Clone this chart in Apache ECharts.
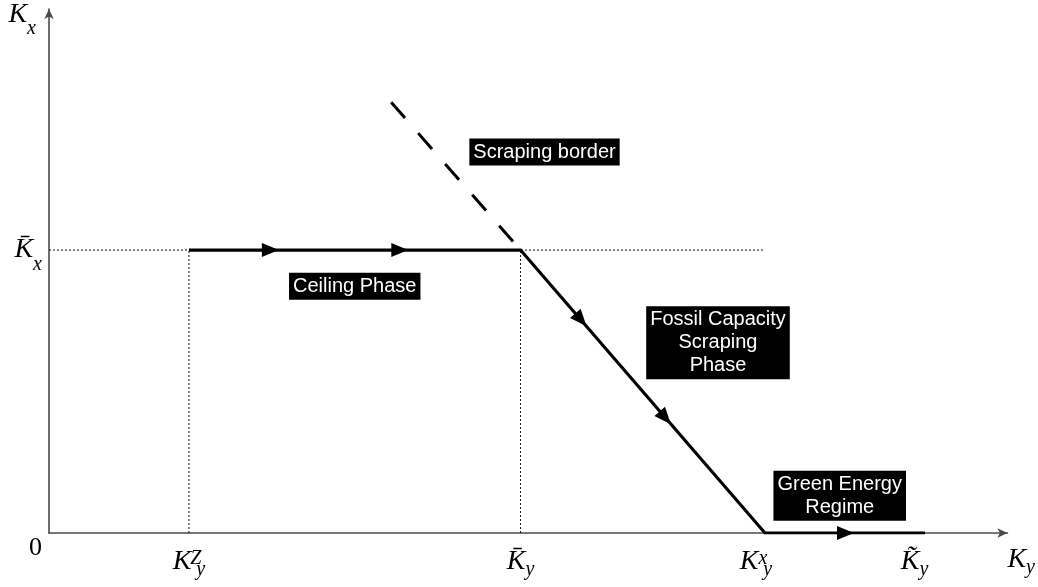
<!DOCTYPE html>
<html>
<head>
<meta charset="utf-8">
<script src="https://cdn.jsdelivr.net/npm/echarts@6/dist/echarts.min.js"></script>
<style>
  html, body { margin: 0; padding: 0; background: #fff; }
  #chart { width: 1038px; height: 587px; }
</style>
</head>
<body>
<div id="chart"></div>
<script>
// Capital levels on the K_y axis and the K_x ceiling
const kyZ = 1.46;
const kyBar = 4.92;
const kyX = 7.47;
const kyTilde = 9.14;
const kxBar = 5.40;

// Tick labels: base letter, subscript, superscript
const xTickValues = [kyZ, kyBar, kyX, kyTilde];
const xTickBase = ['K', 'K\u0304', 'K', 'K\u0303'];
const xTickSub = ['y', 'y', 'y', 'y'];
const xTickSup = ['Z', '', 'x', ''];
const yTickValues = [0, kxBar];

// Transition path: ceiling phase, scraping phase, green regime
const pathPoints = [[kyZ, kxBar], [kyBar, kxBar], [kyX, 0], [kyTilde, 0]];
// Scraping border above the ceiling
const borderPoints = [[3.57, 8.22], [kyBar, kxBar]];
// Direction markers along the path
const arrowPoints = [[2.31, kxBar], [3.66, kxBar], [5.55, 4.07], [6.43, 2.20], [8.31, 0]];
// Phase captions and where they sit
const phaseNames = ['Scraping border', 'Ceiling Phase', 'Fossil Capacity\nScraping\nPhase', 'Green Energy\nRegime'];
const phaseAnchors = [[5.17, 7.27], [3.19, 4.71], [6.98, 3.63], [8.25, 0.71]];

const arrowRotation = [-90, -90, -139, -139, -90];
// extra right padding per x tick label, shifts the label left of its tick
const xLabelPadRight = [0, 0, 18, 21];

const serif = 'Liberation Serif';
const it = { fontFamily: serif, fontStyle: 'italic', color: '#000' };
const mathRich = {
  K:    Object.assign({ fontSize: 28, lineHeight: 40, verticalAlign: 'middle' }, it),
  sub:  Object.assign({ fontSize: 20, verticalAlign: 'bottom', padding: [0, 0, 2, 0] }, it),
  subR: Object.assign({ fontSize: 20, verticalAlign: 'bottom', padding: [0, 21, 2, 0] }, it),
  subS: Object.assign({ fontSize: 20, verticalAlign: 'bottom', padding: [0, 18, 2, 0] }, it),
  sup:  Object.assign({ fontSize: 20, verticalAlign: 'top', width: 1, padding: [7, 0, 0, 4] }, it),
  KN:   Object.assign({ fontSize: 28, lineHeight: 48, verticalAlign: 'middle' }, it),
  KY:   Object.assign({ fontSize: 28, lineHeight: 50, verticalAlign: 'middle' }, it),
  subY: Object.assign({ fontSize: 20, verticalAlign: 'bottom' }, it),
  zero: { fontFamily: serif, fontSize: 26, lineHeight: 26, color: '#000', padding: [30, 0, 0, 0] }
};

function xTickText(v) {
  const i = xTickValues.findIndex(t => Math.abs(t - v) < 1e-6);
  if (i < 0) return '';
  let s = '{K|' + xTickBase[i] + '}';
  if (xTickSup[i] !== '') s += '{sup|' + xTickSup[i] + '}';
  const subStyle = xLabelPadRight[i] === 21 ? 'subR' : (xLabelPadRight[i] === 18 ? 'subS' : 'sub');
  s += '{' + subStyle + '|' + xTickSub[i] + '}';
  return s;
}

function yTickText(v) {
  if (Math.abs(v) < 1e-6) return '{zero|0}';
  return '{KY|K\u0304}{subY|x}';
}

const axisLineStyle = { color: '#4a4a4a', width: 1.6 };

const chart = echarts.init(document.getElementById('chart'), null, { renderer: 'canvas' });

const option = {
  animation: false,
  backgroundColor: '#fff',
  grid: { left: 49, right: 28, top: 9, bottom: 54, containLabel: false },
  xAxis: {
    type: 'value', min: 0, max: 10,
    axisLine: { show: true, onZero: false, symbol: ['none', 'arrow'], symbolSize: [7, 10], lineStyle: axisLineStyle },
    axisTick: { show: false },
    splitLine: { show: false },
    axisLabel: { customValues: xTickValues, margin: 9, formatter: xTickText, rich: mathRich },
    name: '{K|K}{sub|y}',
    nameLocation: 'end',
    nameGap: 0,
    nameMoveOverlap: false,
    nameTextStyle: { align: 'left', verticalAlign: 'top', padding: [7, 0, 0, 0], rich: mathRich }
  },
  yAxis: {
    type: 'value', min: 0, max: 10,
    axisLine: { show: true, onZero: false, symbol: ['none', 'arrow'], symbolSize: [7, 10], lineStyle: axisLineStyle },
    axisTick: { show: false },
    splitLine: { show: false },
    axisLabel: { customValues: yTickValues, margin: 7, formatter: yTickText, rich: mathRich },
    name: '{KN|K}{subY|x}',
    nameLocation: 'end',
    nameGap: 18,
    nameMoveOverlap: false,
    nameTextStyle: { align: 'right', verticalAlign: 'top', padding: [0, 13, 0, 0], rich: mathRich }
  },
  series: [
    // dotted guides
    { type: 'line', data: [[0, kxBar], [kyX, kxBar]], symbol: 'none', silent: true,
      lineStyle: { color: '#111', width: 1, type: [2, 2] }, z: 1 },
    { type: 'line', data: [[kyZ, 0], [kyZ, kxBar]], symbol: 'none', silent: true,
      lineStyle: { color: '#111', width: 1, type: [2, 2] }, z: 1 },
    { type: 'line', data: [[kyBar, 0], [kyBar, kxBar]], symbol: 'none', silent: true,
      lineStyle: { color: '#111', width: 1, type: [2, 2] }, z: 1 },
    // scraping border
    { type: 'line', data: borderPoints, symbol: 'none', silent: true,
      lineStyle: { color: '#000', width: 3, type: [21, 20] }, z: 2 },
    // transition path
    { type: 'line', data: pathPoints, symbol: 'none', silent: true,
      lineStyle: { color: '#000', width: 3.2, join: 'miter' }, z: 3 },
    // arrowheads
    { type: 'scatter', symbol: 'triangle', symbolSize: [14, 17], silent: true,
      itemStyle: { color: '#000', opacity: 1 }, z: 4,
      data: arrowPoints.map((p, i) => ({ value: p, symbolRotate: arrowRotation[i] })) },
    // phase captions
    { type: 'scatter', symbolSize: 0, silent: true, z: 5,
      itemStyle: { opacity: 1 },
      data: phaseAnchors.map((p, i) => ({ value: p, name: phaseNames[i] })),
      label: {
        show: true, position: 'inside', formatter: '{b}', opacity: 1,
        color: '#fff', backgroundColor: '#000',
        fontFamily: 'Liberation Sans', fontSize: 20, lineHeight: 23,
        align: 'center', verticalAlign: 'middle',
        padding: [2, 4, 2, 4]
      } }
  ]
};

chart.setOption(option);
</script>
</body>
</html>
